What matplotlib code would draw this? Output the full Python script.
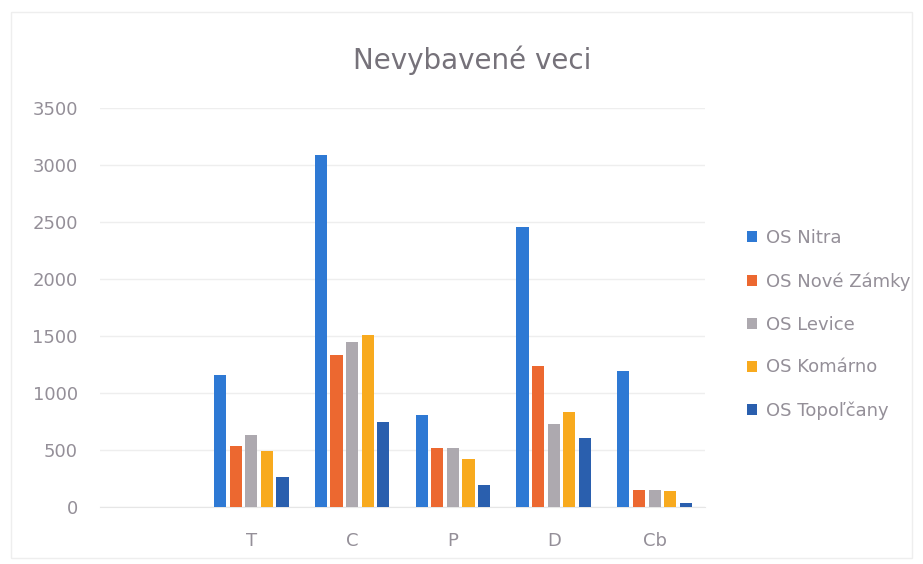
import matplotlib
matplotlib.use("Agg")
import matplotlib.pyplot as plt
from matplotlib.patches import Patch, Rectangle
import numpy as np

categories = ["", "T", "C", "P", "D", "Cb"]
series_names = ["OS Nitra", "OS Nové Zámky", "OS Levice", "OS Komárno", "OS Topoľčany"]
os_nitra = [0, 1160, 3090, 805, 2455, 1190]
os_nove_zamky = [0, 535, 1330, 520, 1235, 145]
os_levice = [0, 630, 1450, 515, 725, 145]
os_komarno = [0, 495, 1505, 420, 830, 140]
os_topolcany = [0, 260, 750, 195, 605, 35]
series_values = [os_nitra, os_nove_zamky, os_levice, os_komarno, os_topolcany]
colors = ["#2E79D4", "#EC6830", "#ADA9AF", "#F8AA1E", "#2A5FAE"]
y_ticks = [0, 500, 1000, 1500, 2000, 2500, 3000, 3500]

text_color = "#948F98"
fig = plt.figure(figsize=(9.23, 5.64), dpi=100)
fig.patches.append(Rectangle((0.012, 0.01), 0.976, 0.968, transform=fig.transFigure,
                             fill=False, edgecolor="#EEEEEE", linewidth=1.0))
ax = fig.add_axes([100/923, 1-507/564, 605/923, 399/564])

x = np.arange(len(categories))
slot = 0.155
width = 0.12
for i, (vals, c) in enumerate(zip(series_values, colors)):
    offs = (i - 2) * slot
    xs = [xx + offs for xx, v in zip(x, vals) if v > 0]
    vs = [v for v in vals if v > 0]
    ax.bar(xs, vs, width=width, color=c, zorder=3)

ax.set_xlim(-0.5, len(categories) - 0.5)
ax.set_ylim(0, 3500)
ax.set_yticks(y_ticks)
ax.set_yticklabels([str(t) for t in y_ticks])
ax.set_xticks(x)
ax.set_xticklabels(categories)
ax.tick_params(axis="both", length=0, labelsize=13, colors=text_color)
ax.tick_params(axis="y", pad=16)
ax.tick_params(axis="x", pad=18)
ax.grid(axis="y", color="#EEEEEE", linewidth=1.0, zorder=0)
for s in ["top", "right", "left"]:
    ax.spines[s].set_visible(False)
ax.spines["bottom"].set_color("#E6E6E6")

fig.text(0.512, 0.893, "Nevybavené veci", ha="center", va="center",
         fontsize=20, color="#76727A")

handles = [Patch(facecolor=c, edgecolor="none") for c in colors]
fig.legend(handles, series_names, loc="upper left", bbox_to_anchor=(731/923, 1-213/564),
           frameon=False, fontsize=13, labelcolor=text_color, handlelength=0.55,
           handleheight=0.55, handletextpad=0.5, labelspacing=1.38)

fig.savefig("out.png", dpi=100)
